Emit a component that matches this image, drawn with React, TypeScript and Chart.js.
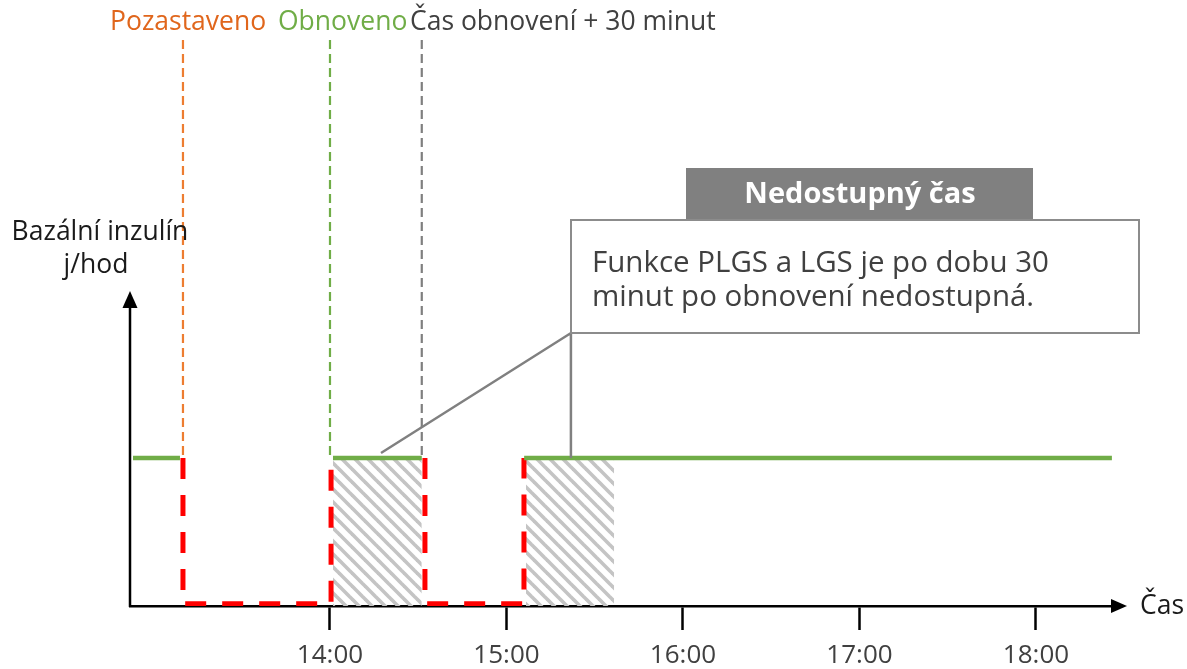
import React, { useEffect, useRef } from "react";
import { Chart, registerables } from "chart.js";

Chart.register(...registerables);

// ---- data (time in hours, basal rate in relative units) ----
const hourTicks = [14, 15, 16, 17, 18];
const tickLabels = ["14:00", "15:00", "16:00", "17:00", "18:00"];

// green basal delivery segments (null = gap)
const basalX = [12.884, 13.15, 13.15, 14.017, 14.52, 14.52, 15.1, 18.43];
const basalY = [1, 1, null, 1, 1, null, 1, 1];

// red dashed suspended basal path
const suspX = [13.167, 13.167, 14.006, 14.006, 14.006, 14.538, 14.538, 15.099, 15.099];
const suspY = [1, 0.015, 0.015, 1, null, 1, 0.015, 0.015, 1];

// hatched unavailable periods
const hatch1X = [14.017, 14.52];
const hatch2X = [15.11, 15.61];
const hatchY = [1, 1];

// event marker times
const markerTimes = [13.167, 14.0, 14.52];
const markerLabels = ["Pozastaveno", "Obnoveno", "Čas obnovení + 30 minut"];
const markerColors = ["#ED7D31", "#70AD47", "#7F7F7F"];
const markerTextColors = ["#E0661C", "#70AD47", "#404040"];
const markerLabelX = [110, 278, 410];

const yAxisLabel = ["Bazální inzulín", "j/hod"];
const xAxisLabel = "Čas";
const calloutTitle = "Nedostupný čas";
const calloutLines = ["Funkce PLGS a LGS je po dobu 30", "minut po obnovení nedostupná."];
const calloutPointer = { x: 14.289, y: 1.034 };
const calloutPointer2 = { x: 15.365, y: 1 };

const xMin = 12.8669;
const xMax = 18.4306;
const yMax = 566 / 148;

const FONT = "'Open Sans', 'Noto Sans', sans-serif";

const zip = (xs: number[], ys: (number | null)[]) => xs.map((x, i) => ({ x, y: ys[i] }));

export default function App() {
  const ref = useRef<HTMLCanvasElement>(null);

  useEffect(() => {
    const canvas = ref.current!;
    const pc = document.createElement("canvas");
    const s = 13;
    pc.width = s;
    pc.height = s;
    const p = pc.getContext("2d")!;
    p.strokeStyle = "#C4C4C4";
    p.lineWidth = 3.6;
    for (const o of [-s, 0, s]) {
      p.beginPath();
      p.moveTo(o - 2, -2);
      p.lineTo(o + s + 2, s + 2);
      p.stroke();
    }
    const pattern = canvas.getContext("2d")!.createPattern(pc, "repeat")!;

    const overlay = {
      id: "overlay",
      afterDraw(chart: any) {
        const ctx = chart.ctx as CanvasRenderingContext2D;
        const ca = chart.chartArea;
        const xs = chart.scales.x;
        const ys = chart.scales.y;
        ctx.save();
        // y axis with arrow
        ctx.strokeStyle = "#000";
        ctx.fillStyle = "#000";
        ctx.lineWidth = 2.5;
        ctx.beginPath();
        ctx.moveTo(ca.left, ca.bottom + 1);
        ctx.lineTo(ca.left, 306);
        ctx.stroke();
        ctx.beginPath();
        ctx.moveTo(ca.left, 291);
        ctx.lineTo(ca.left - 7.5, 308);
        ctx.lineTo(ca.left + 7.5, 308);
        ctx.closePath();
        ctx.fill();
        // x axis arrow head
        ctx.beginPath();
        ctx.moveTo(ca.right + 15, ca.bottom);
        ctx.lineTo(ca.right - 1, ca.bottom - 7);
        ctx.lineTo(ca.right - 1, ca.bottom + 7);
        ctx.closePath();
        ctx.fill();

        ctx.font = `26.5px ${FONT}`;
        ctx.textBaseline = "middle";
        ctx.fillStyle = "#1A1A1A";
        ctx.textAlign = "left";
        ctx.fillText(xAxisLabel, ca.right + 28, ca.bottom);
        ctx.textAlign = "center";
        ctx.fillText(yAxisLabel[0], 100, 232);
        ctx.fillText(yAxisLabel[1], 96, 265);

        // marker labels
        ctx.textAlign = "left";
        markerLabels.forEach((t, i) => {
          ctx.fillStyle = markerTextColors[i];
          ctx.fillText(t, markerLabelX[i], 22);
        });

        // callout connectors
        ctx.strokeStyle = "#808080";
        ctx.lineWidth = 2.5;
        ctx.beginPath();
        ctx.moveTo(571, 333);
        ctx.lineTo(xs.getPixelForValue(calloutPointer.x), ys.getPixelForValue(calloutPointer.y));
        ctx.moveTo(xs.getPixelForValue(calloutPointer2.x), 333);
        ctx.lineTo(xs.getPixelForValue(calloutPointer2.x), ys.getPixelForValue(calloutPointer2.y));
        ctx.stroke();

        // callout header
        ctx.fillStyle = "#808080";
        ctx.fillRect(686, 168, 347, 52);
        ctx.fillStyle = "#FFFFFF";
        ctx.font = `bold 29px ${FONT}`;
        ctx.textAlign = "center";
        ctx.fillText(calloutTitle, 860, 195);
        // callout box
        ctx.fillStyle = "#FFFFFF";
        ctx.fillRect(571, 220, 568, 113);
        ctx.strokeStyle = "#8C8C8C";
        ctx.lineWidth = 2;
        ctx.strokeRect(571, 220, 568, 113);
        ctx.fillStyle = "#404040";
        ctx.font = `29.5px ${FONT}`;
        ctx.textAlign = "left";
        ctx.fillText(calloutLines[0], 592, 264);
        ctx.fillText(calloutLines[1], 592, 298);
        ctx.restore();
      },
    };

    const markerSets = markerTimes.map((t, i) => ({
      data: [
        { x: t, y: 1.02 },
        { x: t, y: yMax },
      ],
      borderColor: markerColors[i],
      borderWidth: 2.2,
      borderDash: [9, 5],
      pointRadius: 0,
      fill: false,
      order: 4,
    }));

    const chart = new Chart(canvas, {
      type: "line",
      data: {
        datasets: [
          {
            data: zip(hatch1X, hatchY),
            borderWidth: 0,
            borderColor: "rgba(0,0,0,0)",
            backgroundColor: pattern,
            fill: "origin",
            pointRadius: 0,
            order: 6,
          },
          {
            data: zip(hatch2X, hatchY),
            borderWidth: 0,
            borderColor: "rgba(0,0,0,0)",
            backgroundColor: pattern,
            fill: "origin",
            pointRadius: 0,
            order: 6,
          },
          ...markerSets,
          {
            data: zip(suspX, suspY),
            borderColor: "#FF0000",
            borderWidth: 5,
            borderDash: [21, 16],
            pointRadius: 0,
            fill: false,
            spanGaps: false,
            order: 2,
          },
          {
            data: zip(basalX, basalY),
            borderColor: "#70AD47",
            borderWidth: 4.5,
            pointRadius: 0,
            fill: false,
            spanGaps: false,
            order: 1,
          },
        ],
      } as any,
      options: {
        responsive: true,
        maintainAspectRatio: false,
        animation: false,
        events: [],
        layout: { padding: { left: 130, right: 75, top: 40, bottom: 0 } },
        plugins: { legend: { display: false }, tooltip: { enabled: false } },
        scales: {
          x: {
            type: "linear",
            min: xMin,
            max: xMax,
            afterBuildTicks: (sc: any) => {
              sc.ticks = hourTicks.map((v) => ({ value: v }));
            },
            afterFit: (sc: any) => {
              sc.height = 63;
            },
            grid: {
              drawOnChartArea: false,
              drawTicks: true,
              tickLength: 24,
              tickColor: "#000",
              tickWidth: 2.5,
            },
            border: { display: true, color: "#000", width: 2.5 },
            ticks: {
              font: { family: FONT, size: 26 },
              color: "#404040",
              padding: 10,
              maxRotation: 0,
              autoSkip: false,
              callback: (v: any) => {
                const i = hourTicks.indexOf(Number(v));
                return i >= 0 ? tickLabels[i] : "";
              },
            },
          },
          y: { display: false, min: 0, max: yMax },
        },
      } as any,
      plugins: [overlay],
    });
    return () => chart.destroy();
  }, []);

  return (
    <div style={{ position: "absolute", left: 0, top: 0, width: 1187, height: 669, background: "#fff" }}>
      <canvas ref={ref} />
    </div>
  );
}
